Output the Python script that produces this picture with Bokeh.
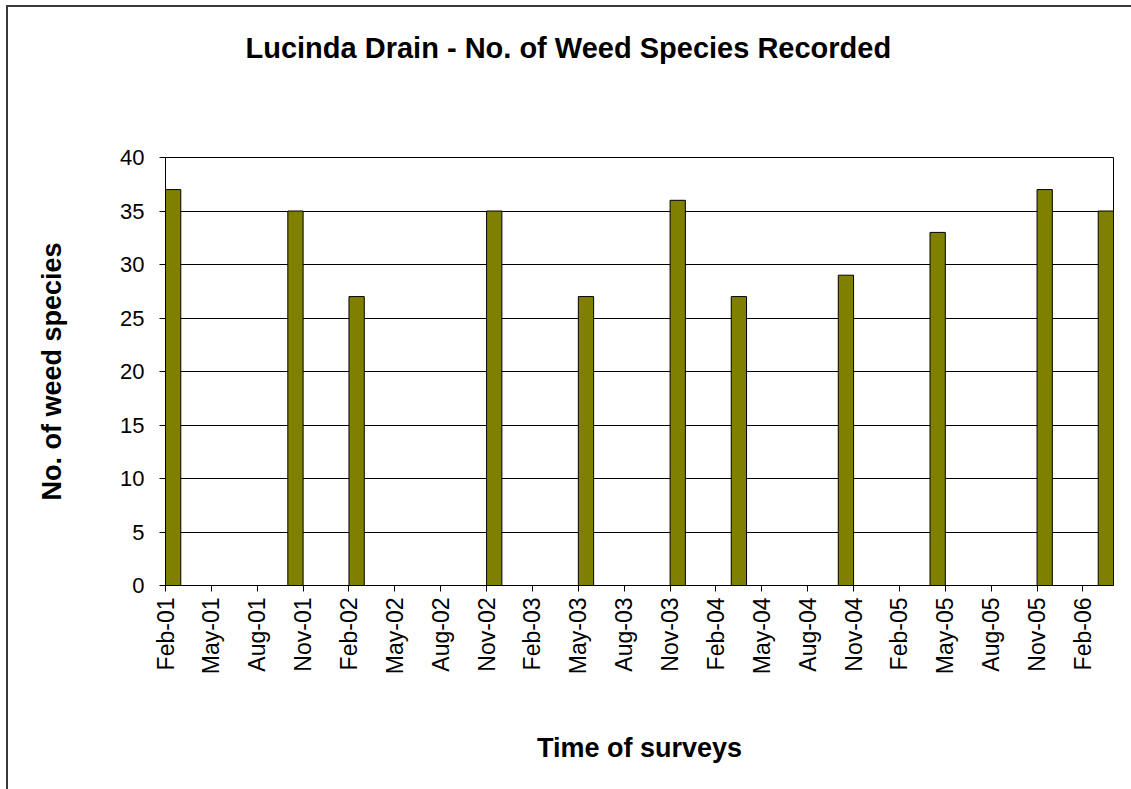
from datetime import datetime
from bokeh.plotting import figure
from bokeh.models import Range1d, FixedTicker, Title
from bokeh.embed import file_html
from bokeh.resources import INLINE

# ---- data ----
axis_start = "Feb-01"
axis_month_count = 62
survey_months = ["Feb-01", "Oct-01", "Feb-02", "Nov-02", "May-03", "Nov-03",
                 "Mar-04", "Oct-04", "Apr-05", "Nov-05", "Mar-06"]
species_counts = [37, 35, 27, 35, 27, 36, 27, 29, 33, 37, 35]
tick_labels = ["Feb-01", "May-01", "Aug-01", "Nov-01", "Feb-02", "May-02", "Aug-02",
               "Nov-02", "Feb-03", "May-03", "Aug-03", "Nov-03", "Feb-04", "May-04",
               "Aug-04", "Nov-04", "Feb-05", "May-05", "Aug-05", "Nov-05", "Feb-06"]
y_ticks = [0, 5, 10, 15, 20, 25, 30, 35, 40]

start = datetime.strptime(axis_start, "%b-%y")


def month_index(s):
    d = datetime.strptime(s, "%b-%y")
    return (d.year - start.year) * 12 + d.month - start.month


bar_x = [month_index(m) + 0.5 for m in survey_months]
tick_pos = [month_index(t) for t in tick_labels]

FONT = "Liberation Sans"
EDGE = "#3a3a3a"

p = figure(width=1131, height=789, output_backend="svg", toolbar_location=None,
           x_range=Range1d(0, axis_month_count), y_range=Range1d(0, 40),
           min_border_left=165, min_border_right=18, min_border_top=157,
           min_border_bottom=204)

p.vbar(x=bar_x, top=species_counts, width=1.0, bottom=0,
       fill_color="#808000", line_color="black", line_width=1)

# spacer between frame and title (nearest to frame)
p.add_layout(Title(text=" ", text_font_size="10px", standoff=76), "above")

# title
p.title.text = "Lucinda Drain - No. of Weed Species Recorded"
p.title.text_font = FONT
p.title.text_font_style = "bold"
p.title.text_font_size = "29px"
p.title.text_color = "black"
p.title.align = "left"
p.title.offset = 80
p.title.standoff = 10

# frame
p.outline_line_color = "black"
p.outline_line_width = 1
p.background_fill_color = "white"
p.border_fill_color = None
# outer chart-area border (left and top edges visible in the crop)
p.styles = {
    "background": (f"linear-gradient({EDGE},{EDGE}) 6px 5px / 2px 100% no-repeat, "
                   f"linear-gradient({EDGE},{EDGE}) 6px 5px / 100% 2px no-repeat, white")
}

# x axis
xa = p.xaxis[0]
xa.ticker = FixedTicker(ticks=tick_pos)
xa.major_label_overrides = {pos: lab for pos, lab in zip(tick_pos, tick_labels)}
xa.major_label_orientation = 1.5707963
xa.major_label_text_font = FONT
xa.major_label_text_font_size = "23px"
xa.major_label_text_color = "black"
xa.major_label_standoff = 6
xa.major_tick_out = 6
xa.major_tick_in = 0
xa.minor_tick_line_color = None
xa.axis_line_color = "black"
xa.major_tick_line_color = "black"
xa.axis_label = "Time of surveys"
xa.axis_label_text_font = FONT
xa.axis_label_text_font_style = "bold"
xa.axis_label_text_font_size = "27px"
xa.axis_label_text_color = "black"
xa.axis_label_standoff = 56

# y axis
ya = p.yaxis[0]
ya.ticker = FixedTicker(ticks=y_ticks)
ya.major_label_text_font = FONT
ya.major_label_text_font_size = "22px"
ya.major_label_text_color = "black"
ya.major_label_standoff = 15
ya.major_tick_out = 6
ya.major_tick_in = 0
ya.minor_tick_line_color = None
ya.axis_line_color = "black"
ya.major_tick_line_color = "black"
ya.axis_label = "No. of weed species"
ya.axis_label_text_font = FONT
ya.axis_label_text_font_style = "bold"
ya.axis_label_text_font_size = "27px"
ya.axis_label_text_color = "black"
ya.axis_label_standoff = 50

p.xgrid.grid_line_color = None
p.ygrid.grid_line_color = "black"
p.ygrid.grid_line_width = 1

open("out.html", "w").write(file_html(p, INLINE))
